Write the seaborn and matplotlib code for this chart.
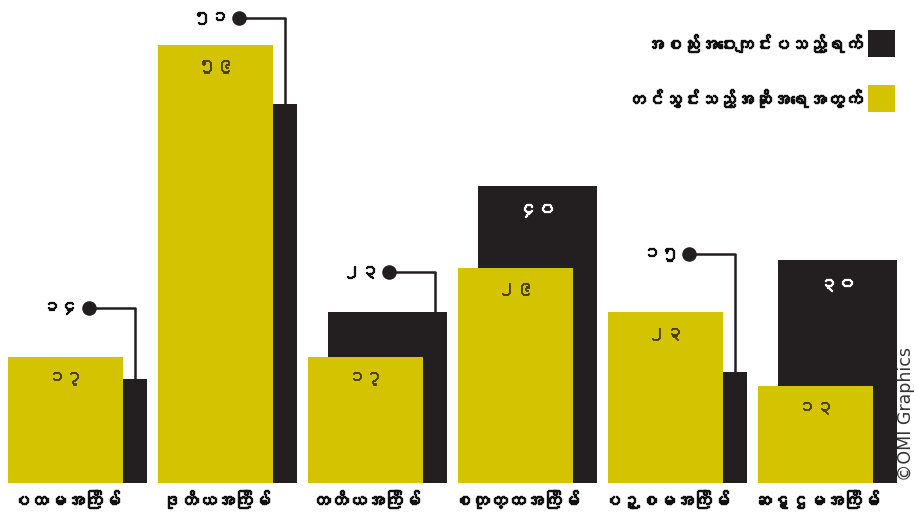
import numpy as np
import pandas as pd
import matplotlib
matplotlib.use("Agg")
import matplotlib.pyplot as plt
import matplotlib.patheffects as pe
import seaborn as sns
from matplotlib import font_manager as fm
from matplotlib.patches import Rectangle

# ---------------- data ----------------
categories = ["ပထမအကြိမ်", "ဒုတိယအကြိမ်", "တတိယအကြိမ်",
              "စတုတ္ထအကြိမ်", "ပဉ္စမအကြိမ်", "ဆဋ္ဌမအကြိမ်"]
meeting_days = [14, 51, 23, 40, 15, 30]        # black series
proposals = [17, 59, 17, 29, 23, 13]           # yellow series
legend_labels = ["အစည်းအဝေးကျင်းပသည့်ရက်", "တင်သွင်းသည့်အဆိုအရေအတွက်"]
credit = "©OMI Graphics"

YELLOW = "#D3C300"
BLACK = "#231F20"
LABEL_DARK = "#4a3f0a"

# ---------------- font with Myanmar glyphs ----------------
def find_font(ch):
    try:
        from fontTools.ttLib import TTFont
    except Exception:
        return None
    for f in fm.fontManager.ttflist:
        try:
            kw = {"fontNumber": 0} if f.fname.lower().endswith(".ttc") else {}
            tt = TTFont(f.fname, lazy=True, **kw)
            cmap = tt.getBestCmap()
            if cmap and ord(ch) in cmap:
                return f.name
        except Exception:
            continue
    return None

sns.set_theme(style="white")
mm = find_font("\u1021")
FAM = [mm, "DejaVu Sans"] if mm else ["DejaVu Sans"]
plt.rcParams["font.family"] = FAM

MY_DIGITS = str.maketrans("0123456789", "၀၁၂၃၄၅၆၇၈၉")
def my(n):
    return str(n).translate(MY_DIGITS)

def bold(color, w=0.9):
    return [pe.withStroke(linewidth=w, foreground=color)]

# ---------------- figure ----------------
W, H = 920, 530
fig = plt.figure(figsize=(W / 100, H / 100), dpi=100)
fig.patch.set_facecolor("white")
base_px = 483
pitch = 150.0
px_per_unit = 7.43
x0_px = 65.5
ax = fig.add_axes([0, (H - base_px) / H, 1, base_px / H])
ax.set_facecolor("white")

idx = np.arange(len(categories))
black_off = 0.147
df_b = pd.DataFrame({"x": idx + black_off, "v": meeting_days})
df_y = pd.DataFrame({"x": idx.astype(float), "v": proposals})

sns.barplot(data=df_b, x="x", y="v", native_scale=True, width=0.79,
            color=BLACK, saturation=1, errorbar=None, linewidth=0, ax=ax, zorder=2)
sns.barplot(data=df_y, x="x", y="v", native_scale=True, width=0.77,
            color=YELLOW, saturation=1, errorbar=None, linewidth=0, ax=ax, zorder=3)

ax.set_xlim(-x0_px / pitch, (W - x0_px) / pitch)
ax.set_ylim(0, base_px / px_per_unit)
for s in ax.spines.values():
    s.set_visible(False)
ax.set_yticks([])
ax.set_xticks(idx)
ax.set_xticklabels(categories, fontsize=13, fontweight="bold", color="#111111")
for t in ax.get_xticklabels():
    t.set_path_effects(bold("#111111", 1.0))
ax.tick_params(axis="x", length=0, pad=5)
ax.set_xlabel("")
ax.set_ylabel("")
ax.grid(False)

# yellow value labels
for i, v in enumerate(proposals):
    ax.text(i, v - 2.9, my(v), ha="center", va="center", fontsize=13,
            color=LABEL_DARK, zorder=5, path_effects=bold(LABEL_DARK, 0.6))

# black value labels: inside or with connector
inside_black = [False, False, False, True, False, True]
connector_y = [23.6, 62.6, 28.4, None, 30.8, None]
for i, v in enumerate(meeting_days):
    if inside_black[i]:
        ax.text(i + black_off, v - 3.3, my(v), ha="center", va="center",
                fontsize=13, color="white", fontweight="bold", zorder=5,
                path_effects=bold("white", 0.9))
    else:
        vx = i + 0.4635
        dx = i + 0.16
        cy = connector_y[i]
        ax.plot([vx, vx], [v, cy], color=BLACK, lw=1.8, zorder=4,
                solid_capstyle="butt")
        ax.plot([dx, vx], [cy, cy], color=BLACK, lw=1.8, zorder=4,
                solid_joinstyle="miter")
        ax.scatter([dx], [cy], s=110, color=BLACK, zorder=5, linewidths=0)
        ax.text(i + 0.085, cy, my(v), ha="right", va="center", fontsize=13,
                color="#111111", fontweight="bold", zorder=5,
                path_effects=bold("#111111", 0.9))

# legend (manual, text left of swatch)
sw = 27
rows_px = [30, 85]
colors = [BLACK, YELLOW]
for lab, c, top in zip(legend_labels, colors, rows_px):
    fig.add_artist(Rectangle(((868) / W, 1 - (top + sw) / H), sw / W, sw / H,
                             transform=fig.transFigure, color=c, lw=0))
    fig.text(861 / W, 1 - (top + sw / 2) / H, lab, ha="right", va="center",
             fontsize=13, fontweight="bold", color="#111111",
             path_effects=bold("#111111", 1.0))

# credit
fig.text(906 / W, (H - 481) / H, credit, rotation=90, ha="center", va="bottom",
         fontsize=12.5, color="#333333", family=["DejaVu Sans"])

fig.savefig("out.png", dpi=100, facecolor="white")
